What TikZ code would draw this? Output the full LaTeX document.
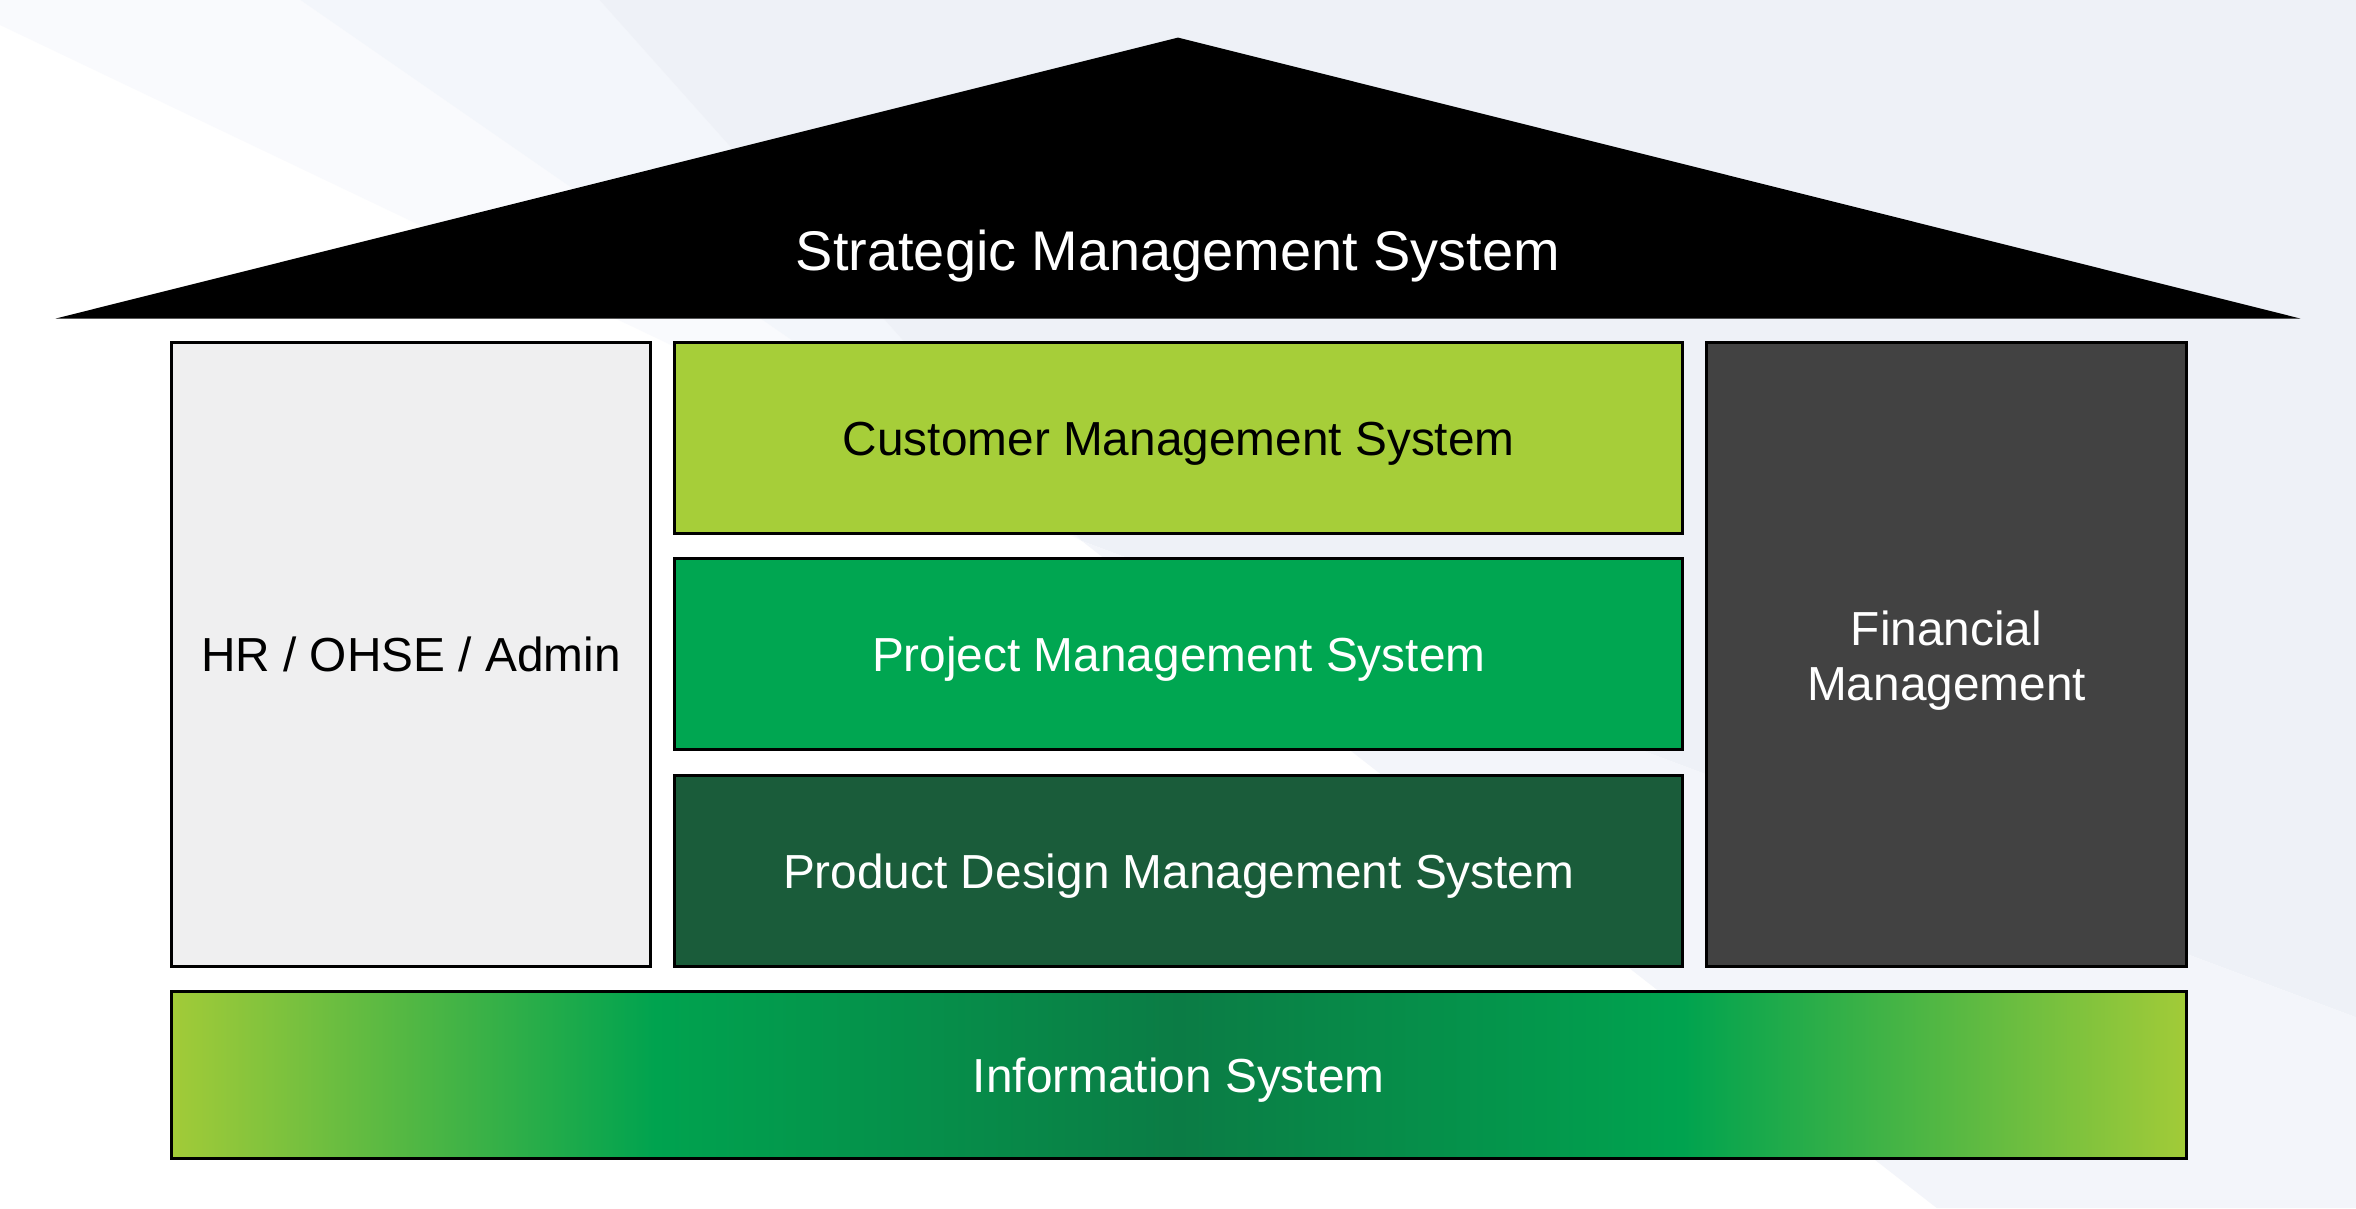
\documentclass[tikz,border=0pt]{standalone}
\usepackage{fontspec}
\setmainfont{Liberation Sans}
\definecolor{bgA}{HTML}{F9FAFD}
\definecolor{bgB}{HTML}{F3F6FB}
\definecolor{bgC}{HTML}{EEF1F7}
\definecolor{bgD}{HTML}{F3F5FA}
\definecolor{hrfill}{HTML}{EFEFF0}
\definecolor{cmsfill}{HTML}{A6CE39}
\definecolor{pmsfill}{HTML}{00A651}
\definecolor{pdmsfill}{HTML}{1A5C3A}
\definecolor{finfill}{HTML}{424242}
\definecolor{infoyg}{HTML}{A2CB38}
\definecolor{infogr}{HTML}{00A34F}
\definecolor{infodk}{HTML}{0B7C45}
\pgfdeclarehorizontalshading{infoshade}{100bp}{color(0bp)=(infoyg); color(25bp)=(infoyg); color(37bp)=(infogr); color(50bp)=(infodk); color(62.5bp)=(infogr); color(75bp)=(infoyg); color(100bp)=(infoyg)}
\begin{document}
\begin{tikzpicture}[x=0.5pt,y=-0.5pt,
  blockbox/.style={draw=black, line width=1pt, rectangle, inner sep=0pt},
  lbl/.style={inner sep=0pt, anchor=base, font=\fontsize{15.9}{18.3}\selectfont},
  rooflbl/.style={inner sep=0pt, anchor=base, text=white, font=\fontsize{18.6}{21.4}\selectfont}]
\useasboundingbox (0,0) rectangle (1568,804);
% background sunburst
\fill[white] (0,0) rectangle (1568,804);
\coordinate (sc) at (720,360);
\fill[bgA] (sc) -- (0,16.6) -- (0,0) -- (200,0) -- cycle;
\fill[bgB] (sc) -- (200,0) -- (399,0) -- cycle;
\fill[bgC] (sc) -- (399,0) -- (1568,0) -- (1568,677) -- cycle;
\fill[bgD] (sc) -- (1568,677) -- (1568,804) -- (1289,804) -- cycle;
% roof
\coordinate (apex) at (784,25);
\coordinate (eaveL) at (37,212);
\coordinate (eaveR) at (1531,212);
\fill[black] (apex) -- (eaveR) -- (eaveL) -- cycle;
\node[rooflbl] (sms) at (784,180) {Strategic Management System};
% blocks
\node[blockbox, fill=hrfill, minimum width=159.5pt, minimum height=207.5pt] (hr) at (273.5,435.5) {};
\node[blockbox, fill=cmsfill, minimum width=335.5pt, minimum height=63.5pt] (cms) at (784.5,291.5) {};
\node[blockbox, fill=pmsfill, minimum width=335.5pt, minimum height=63.5pt] (pms) at (784.5,435.5) {};
\node[blockbox, fill=pdmsfill, minimum width=335.5pt, minimum height=63.5pt] (pdms) at (784.5,579.5) {};
\node[blockbox, fill=finfill, minimum width=159.5pt, minimum height=207.5pt] (fin) at (1295.5,435.5) {};
\node[blockbox, shading=infoshade, minimum width=670.5pt, minimum height=55.5pt] (info) at (784.5,715.5) {};
% labels
\node[lbl, text=black] (hrt) at (273.5,447) {HR / OHSE / Admin};
\node[lbl, text=black] (cmst) at (784.5,303) {Customer Management System};
\node[lbl, text=white] (pmst) at (784.5,447) {Project Management System};
\node[lbl, text=white] (pdmst) at (784.5,591) {Product Design Management System};
\node[lbl, text=white] (fint1) at (1295.5,429.5) {Financial};
\node[lbl, text=white] (fint2) at (1295.5,466.5) {Management};
\node[lbl, text=white] (infot) at (784.5,727) {Information System};
\end{tikzpicture}
\end{document}
